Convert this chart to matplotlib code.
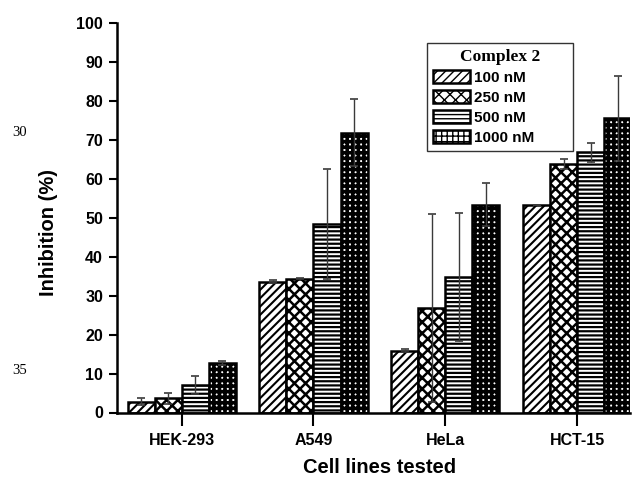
import numpy as np
import matplotlib
matplotlib.use("Agg")
import matplotlib.pyplot as plt

# Inhibition data (%) for four cell lines at four concentrations of Complex 2
cell_lines = ["HEK-293", "A549", "HeLa", "HCT-15"]
concentrations = ["100 nM", "250 nM", "500 nM", "1000 nM"]

inhib_100 = [2.8, 33.6, 15.9, 53.3]
inhib_250 = [3.6, 34.4, 26.9, 63.8]
inhib_500 = [7.0, 48.4, 34.7, 66.8]
inhib_1000 = [12.7, 71.8, 53.4, 75.5]

err_100 = [1.0, 0.3, 0.3, 0.1]
err_250 = [1.4, 0.2, 24.1, 1.2]
err_500 = [2.3, 14.0, 16.4, 2.5]
err_1000 = [0.5, 8.6, 5.4, 11.0]

y_ticks = [0, 10, 20, 30, 40, 50, 60, 70, 80, 90, 100]

series = [inhib_100, inhib_250, inhib_500, inhib_1000]
errors = [err_100, err_250, err_500, err_1000]
hatches = ["////", "xxx", "----", "+++"]
hatch_widths = [1.5, 1.8, 1.6, 2.6]

plt.rcParams["font.family"] = ["Liberation Sans", "DejaVu Sans"]

fig = plt.figure(figsize=(6.37, 4.78), dpi=100)
ax = fig.add_axes([117 / 637, 1 - 412.5 / 478, (630 - 117) / 637, (412.5 - 23) / 478])

x = np.arange(len(cell_lines))
width = 0.205
offsets = (np.arange(4) - 1.5) * width

for vals, errs, h, hw, lab, off in zip(series, errors, hatches, hatch_widths,
                                       concentrations, offsets):
    with plt.rc_context({"hatch.linewidth": hw}):
        bars = ax.bar(x + off, vals, width, facecolor="white", edgecolor="black",
                      linewidth=1.8, hatch=h, label=lab, zorder=2)
        for b in bars:
            if hasattr(b, "set_hatch_linewidth"):
                b.set_hatch_linewidth(hw)
    ax.errorbar(x + off, vals, yerr=errs, fmt="none", ecolor="#3a3a3a",
                elinewidth=1.0, capsize=3, capthick=1.2, zorder=3)

ax.set_xlim(-0.49, 3.40)
ax.set_ylim(0, 100)
ax.set_yticks(y_ticks)
ax.set_xticks(x)
ax.set_xticklabels(cell_lines)

for side in ("top", "right"):
    ax.spines[side].set_visible(False)
for side in ("left", "bottom"):
    ax.spines[side].set_linewidth(1.8)

ax.tick_params(axis="y", direction="out", length=6, width=1.5, labelsize=11.5, pad=4)
ax.tick_params(axis="x", direction="out", length=9, width=1.5, labelsize=11.5, pad=6)
for t in ax.get_xticklabels() + ax.get_yticklabels():
    t.set_fontweight("bold")

ax.set_ylabel("Inhibition (%)", fontsize=14.5, fontweight="bold")
ax.yaxis.set_label_coords(-0.115, 0.461)
ax.set_xlabel("Cell lines tested", fontsize=14.5, fontweight="bold")
ax.xaxis.set_label_coords(0.511, -0.118)

leg_top = 1 - 43 / 478
leg_h = 107 / 478
leg = ax.legend(loc="upper left",
                bbox_to_anchor=(427 / 637, leg_top - leg_h, 146 / 637, leg_h),
                bbox_transform=fig.transFigure, mode="expand",
                borderaxespad=0, fancybox=False, frameon=True,
                title="Complex 2", handlelength=2.4, handleheight=0.95,
                handletextpad=0.3, labelspacing=0.33, borderpad=0.4,
                prop={"weight": "bold", "size": 11})
leg.get_frame().set_edgecolor("black")
leg.get_frame().set_linewidth(1.0)
leg.get_title().set_fontfamily("Liberation Serif")
leg.get_title().set_fontweight("bold")
leg.get_title().set_fontsize(12.5)

# Manuscript line numbers in the left margin
fig.text(12 / 637, 1 - 132 / 478, "30", fontsize=10.5, family="Liberation Serif",
         ha="left", va="center")
fig.text(12 / 637, 1 - 371 / 478, "35", fontsize=10.5, family="Liberation Serif",
         ha="left", va="center")

fig.savefig("out.png", dpi=100)
